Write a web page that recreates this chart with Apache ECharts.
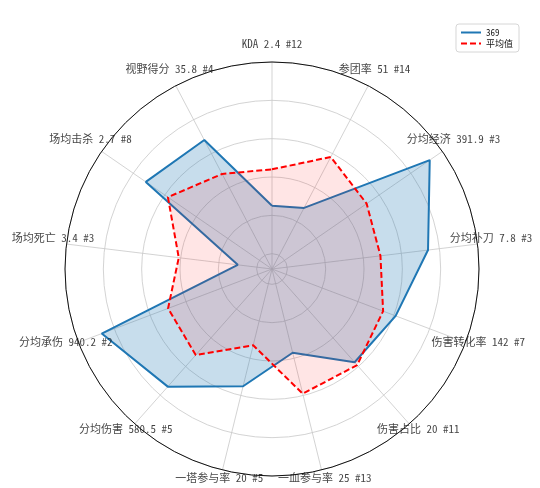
<!DOCTYPE html>
<html>
<head>
<meta charset="utf-8">
<script src="https://cdn.jsdelivr.net/npm/echarts@6/dist/echarts.min.js"></script>
<style>
html, body { margin: 0; padding: 0; background: #fff; }
#main { width: 540px; height: 488px; }
</style>
</head>
<body>
<div id="main"></div>
<script>
// 各项指标（顺时针，从正上方开始）
var names = ['KDA', '参团率', '分均经济', '分均补刀', '伤害转化率', '伤害占比', '一血参与率',
             '一塔参与率', '分均伤害', '分均承伤', '场均死亡', '场均击杀', '视野得分'];
var statValues = ['2.4', '51', '391.9', '7.8', '142', '20', '25', '20', '580.5', '940.2', '3.4', '2.7', '35.8'];
var ranks = [12, 14, 3, 3, 7, 11, 13, 5, 5, 2, 3, 8, 4];

// 归一化后的数值
var player = [0.25, 0.28, 0.92, 0.74, 0.61, 0.57, 0.37, 0.55, 0.74, 0.87, 0.10, 0.72, 0.68];
var average = [0.44, 0.58, 0.52, 0.49, 0.54, 0.59, 0.59, 0.33, 0.52, 0.50, 0.41, 0.58, 0.48];

var playerName = '369';
var averageName = '平均值';

var labelFont = "'Noto Sans Mono CJK SC', 'Noto Sans CJK SC', sans-serif";

// 把数据首尾相连，画成闭合的多边形
function closeLoop (vals) {
    var d = vals.map(function (v, i) { return [v, i]; });
    d.push([vals[0], vals.length]);
    return d;
}

function drawRadar () {
    var myChart = echarts.init(document.getElementById('main'));
    var n = names.length;

    var labelData = names.map(function (name, i) {
        return { value: [1, i], name: name + ' ' + statValues[i] + ' #' + ranks[i] };
    });

    var option = {
        animation: false,
        legend: {
            data: [playerName, averageName],
            orient: 'vertical',
            right: 21,
            top: 24,
            padding: [4, 6, 4, 4],
            itemGap: 2,
            itemWidth: 20,
            itemHeight: 10,
            itemStyle: { opacity: 0 },
            borderColor: '#d6d6d6',
            borderWidth: 1,
            borderRadius: 3,
            textStyle: { fontSize: 9, color: '#111', fontFamily: labelFont }
        },
        polar: [
            { center: [272, 269], radius: 207 },
            { center: [272, 269], radius: 220.5 }
        ],
        angleAxis: [
            {
                polarIndex: 0,
                type: 'value',
                min: 0,
                max: n,
                interval: 1,
                startAngle: 90,
                clockwise: true,
                axisLine: { show: true, lineStyle: { color: '#111', width: 1 } },
                axisTick: { show: false },
                axisLabel: { show: false },
                splitLine: { show: true, lineStyle: { color: '#c8c8c8', width: 0.8 } }
            },
            {
                polarIndex: 1,
                type: 'value',
                min: 0,
                max: n,
                startAngle: 90,
                clockwise: true,
                show: false
            }
        ],
        radiusAxis: [
            {
                polarIndex: 0,
                min: -0.08,
                max: 1,
                splitNumber: 5,
                axisLine: { show: false },
                axisTick: { show: false },
                axisLabel: { show: false },
                splitLine: { show: true, lineStyle: { color: '#c8c8c8', width: 0.8 } }
            },
            {
                polarIndex: 1,
                min: 0,
                max: 1,
                show: false
            }
        ],
        series: [
            {
                name: playerName,
                type: 'line',
                coordinateSystem: 'polar',
                polarIndex: 0,
                data: closeLoop(player),
                symbol: 'none',
                z: 2,
                itemStyle: { color: '#1f77b4' },
                lineStyle: { color: '#1f77b4', width: 2 },
                areaStyle: { color: 'rgba(31,119,180,0.25)', opacity: 1, origin: 'start' }
            },
            {
                name: averageName,
                type: 'line',
                coordinateSystem: 'polar',
                polarIndex: 0,
                data: closeLoop(average),
                symbol: 'none',
                z: 3,
                itemStyle: { color: '#ff0000' },
                lineStyle: { color: '#ff0000', width: 2, type: [6, 3] },
                areaStyle: { color: 'rgba(255,0,0,0.1)', opacity: 1, origin: 'start' }
            },
            {
                name: 'labels',
                type: 'scatter',
                coordinateSystem: 'polar',
                polarIndex: 1,
                data: labelData,
                symbolSize: 1,
                clip: false,
                silent: true,
                itemStyle: { color: 'transparent' },
                label: {
                    show: true,
                    position: 'inside',
                    offset: [0, -5],
                    formatter: '{b}',
                    fontSize: 11,
                    color: '#111',
                    fontFamily: labelFont
                }
            }
        ]
    };

    myChart.setOption(option);
}

drawRadar();
</script>
</body>
</html>
